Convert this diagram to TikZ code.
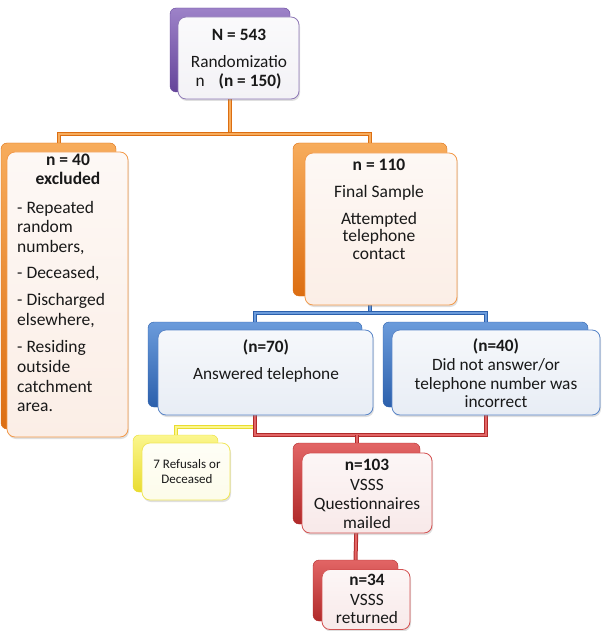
\documentclass[tikz,border=0pt]{standalone}
\usepackage{fontspec}
\setmainfont{Carlito}
\usetikzlibrary{backgrounds,shadows}
\definecolor{purpleD}{HTML}{65459A}
\definecolor{purpleL}{HTML}{9D82C8}
\definecolor{purpleB}{HTML}{8E78B6}
\definecolor{purpleF}{HTML}{F3F2F6}
\definecolor{orangeD}{HTML}{DC6E12}
\definecolor{orangeL}{HTML}{F7AC5C}
\definecolor{orangeB}{HTML}{F39A4A}
\definecolor{orangeF}{HTML}{FBEEE6}
\definecolor{blueD}{HTML}{2C60AC}
\definecolor{blueL}{HTML}{6B9BDB}
\definecolor{blueB}{HTML}{5A86C8}
\definecolor{blueF}{HTML}{E8EDF5}
\definecolor{yellowD}{HTML}{E9DC30}
\definecolor{yellowL}{HTML}{FBF68E}
\definecolor{yellowB}{HTML}{F0E65A}
\definecolor{yellowF}{HTML}{FDFCEA}
\definecolor{redD}{HTML}{B02A2A}
\definecolor{redL}{HTML}{E26565}
\definecolor{redB}{HTML}{D45252}
\definecolor{redF}{HTML}{F8E9E9}
\begin{document}
\begin{tikzpicture}[x=1pt,y=-1pt,
  backbox/.style={rounded corners=6pt, inner sep=0pt, draw=#1D, top color=#1L, bottom color=#1D},
  frontbox/.style={rounded corners=8pt, inner sep=0pt, draw=#1B, line width=0.8pt,
     top color=#1F!40!white, bottom color=#1F,
     drop shadow={opacity=0.25, shadow xshift=1pt, shadow yshift=-2pt}},
  conn/.style={draw=#1D, double=#1L, double distance=2pt, line width=1pt},
  txt/.style={inner sep=0pt, anchor=base, text=black!90},
  txtl/.style={inner sep=0pt, anchor=base west, text=black!90}]
\useasboundingbox (0,0) rectangle (602,631);

% back boxes
\node[backbox=purple, minimum width=120pt, minimum height=84pt] (topb) at (230,50) {};
\node[backbox=orange, minimum width=115pt, minimum height=286pt] (leftb) at (58.5,286) {};
\node[backbox=orange, minimum width=154pt, minimum height=153pt] (rightb) at (370,219.5) {};
\node[backbox=blue, minimum width=214pt, minimum height=85pt] (blueab) at (255,364.5) {};
\node[backbox=blue, minimum width=205pt, minimum height=85pt] (bluebb) at (485.5,364.5) {};
\node[backbox=yellow, minimum width=85pt, minimum height=57pt] (yelb) at (175.5,463.5) {};
\node[backbox=red, minimum width=127pt, minimum height=81pt] (redab) at (356.5,483.5) {};
\node[backbox=red, minimum width=85pt, minimum height=61pt] (redbb) at (355.5,590.5) {};

% front boxes
\node[frontbox=purple, minimum width=121pt, minimum height=82pt] (top) at (238.5,58) {};
\node[frontbox=orange, minimum width=121pt, minimum height=285pt] (left) at (67.5,294.5) {};
\node[frontbox=orange, minimum width=152pt, minimum height=152pt] (right) at (381,229) {};
\node[frontbox=blue, minimum width=215pt, minimum height=85pt] (bluea) at (265.5,372.5) {};
\node[frontbox=blue, minimum width=208pt, minimum height=85pt] (blueb) at (496,372.5) {};
\node[frontbox=yellow, minimum width=88pt, minimum height=57pt] (yel) at (186,471.5) {};
\node[frontbox=red, minimum width=130pt, minimum height=80pt] (reda) at (367,493) {};
\node[frontbox=red, minimum width=88pt, minimum height=60pt] (redb) at (366,599.5) {};

% connectors
\begin{scope}[on background layer]
\coordinate (jo) at (topb.south |- 0,134);
\draw[conn=orange] (topb.south) -- (jo);
\draw[conn=orange] (leftb.north) -- (leftb.north |- jo) -- (rightb.north |- jo) -- (rightb.north);
\coordinate (jb) at (rightb.south |- 0,313);
\draw[conn=blue] (rightb.south) -- (jb);
\draw[conn=blue] (blueab.north) -- (blueab.north |- jb) -- (bluebb.north |- jb) -- (bluebb.north);
\coordinate (jy) at (blueab.south |- 0,427);
\draw[conn=yellow] (jy) -- (yelb.north |- jy) -- (yelb.north);
\coordinate (jr) at (redab.north |- 0,435);
\draw[conn=red] (blueab.south) -- (blueab.south |- jr) -- (bluebb.south |- jr) -- (bluebb.south);
\draw[conn=red] (jr) -- (redab.north);
\draw[conn=red] (redab.south) -- (redbb.north);
\end{scope}

% texts
\begin{scope}[font=\fontsize{17.3pt}{14pt}\selectfont]
\node[txt] (t1) at (239,41) {\textbf{N = 543}};
\node[txt] (t2) at (239,68) {Randomizatio};
\node[txt] (t3) at (238.5,87) {n\hspace{14pt}\textbf{(n = 150)}};
\end{scope}

\begin{scope}[font=\fontsize{17.5pt}{20pt}\selectfont]
\node[txt] (l1) at (68,165) {\textbf{n = 40}};
\node[txt] (l2) at (68,185) {\textbf{excluded}};
\foreach \yy/\tx [count=\i] in {213/{- Repeated}, 232/random, 252/{numbers,}, 278/{- Deceased,},
   305/{- Discharged}, 325/{elsewhere,}, 352/{- Residing}, 372/outside, 392/catchment, 411/area.}
  \node[txtl] (lx-\i) at (17,\yy) {\tx};
\foreach \yy/\tx [count=\i] in {171/\textbf{n = 110}, 197/Final Sample, 224/Attempted, 241/telephone, 259/contact}
  \node[txt] (r-\i) at (379,\yy) {\tx};
\end{scope}

\begin{scope}[font=\fontsize{17.3pt}{19pt}\selectfont]
\node[txt] (ba1) at (266,352) {\textbf{(n=70)}};
\node[txt] (ba2) at (266,379) {Answered telephone};
\foreach \yy/\tx [count=\i] in {351/{\textbf{(n=40)}}, 370/{Did not answer/or}, 389/{telephone number was}, 407/{incorrect}}
  \node[txt] (bb-\i) at (496,\yy) {\tx};
\foreach \yy/\tx [count=\i] in {470/\textbf{n=103}, 490/VSSS, 509/Questionnaires, 528/mailed}
  \node[txt] (ra-\i) at (367,\yy) {\tx};
\foreach \yy/\tx [count=\i] in {585/\textbf{n=34}, 605/VSSS, 623/returned}
  \node[txt] (rb-\i) at (367,\yy) {\tx};
\end{scope}

\begin{scope}[font=\fontsize{13pt}{15pt}\selectfont]
\node[txt] (y1) at (187,468) {7 Refusals or};
\node[txt] (y2) at (187,483) {Deceased};
\end{scope}
\end{tikzpicture}
\end{document}
